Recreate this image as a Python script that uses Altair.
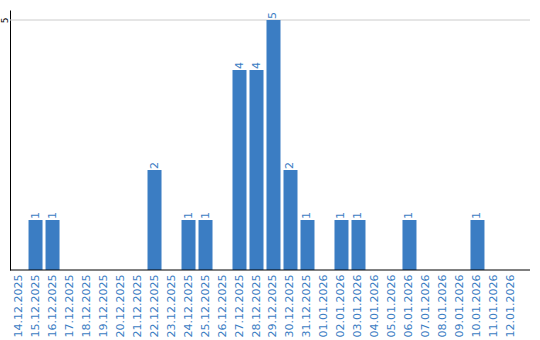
import altair as alt
import pandas as pd

dates = ["14.12.2025", "15.12.2025", "16.12.2025", "17.12.2025", "18.12.2025", "19.12.2025",
         "20.12.2025", "21.12.2025", "22.12.2025", "23.12.2025", "24.12.2025", "25.12.2025",
         "26.12.2025", "27.12.2025", "28.12.2025", "29.12.2025", "30.12.2025", "31.12.2025",
         "01.01.2026", "02.01.2026", "03.01.2026", "04.01.2026", "05.01.2026", "06.01.2026",
         "07.01.2026", "08.01.2026", "09.01.2026", "10.01.2026", "11.01.2026", "12.01.2026"]
counts = [0, 1, 1, 0, 0, 0, 0, 0, 2, 0, 1, 1, 0, 4, 4, 5, 2, 1, 0, 1, 1, 0, 0, 1, 0, 0, 0, 1, 0, 0]

df = pd.DataFrame({"date": dates, "count": counts})
BLUE = "#3b7dc3"

x = alt.X("date:N", sort=dates, title=None,
          scale=alt.Scale(paddingInner=0.176, paddingOuter=0.09),
          axis=alt.Axis(labelAngle=-90, ticks=False, domain=False, labelPadding=4,
                        labelColor=BLUE, labelFontSize=11, labelFont="DejaVu Sans"))
y = alt.Y("count:Q", title=None, scale=alt.Scale(domain=[0, 5.2], nice=False),
          axis=alt.Axis(values=[5], ticks=False, grid=False, domain=True, domainColor="black",
                        labelAngle=-90, labelAlign="center", labelBaseline="bottom",
                        labelPadding=1, labelFontSize=9, labelColor="black",
                        labelFont="DejaVu Sans"))

base = alt.Chart(df)

grid = alt.Chart(pd.DataFrame({"v": [5]})).mark_rule(color="#cccccc").encode(
    y=alt.Y("v:Q", scale=alt.Scale(domain=[0, 5.2], nice=False)),
    x=alt.value(0), x2=alt.value(520))

bars = base.mark_bar(color=BLUE).encode(x=x, y=y)

labels = base.transform_filter(alt.datum.count > 0).mark_text(
    angle=270, align="left", baseline="middle", dx=1, color=BLUE,
    fontSize=11, font="DejaVu Sans").encode(x=alt.X("date:N", sort=dates), y="count:Q",
                                            text="count:Q")

xline = alt.Chart(pd.DataFrame({"v": [0]})).mark_rule(color="black").encode(
    y=alt.Y("v:Q", scale=alt.Scale(domain=[0, 5.2], nice=False)),
    x=alt.value(0), x2=alt.value(520))

chart = alt.layer(grid, bars, labels, xline).properties(
    width=510, height=260,
    background="white",
    autosize=alt.AutoSizeParams(type="none"),
    padding={"left": 10, "top": 10, "right": 20, "bottom": 70},
).configure_view(stroke=None)

chart.save("out.html", embed_options={"renderer": "svg", "actions": False})
